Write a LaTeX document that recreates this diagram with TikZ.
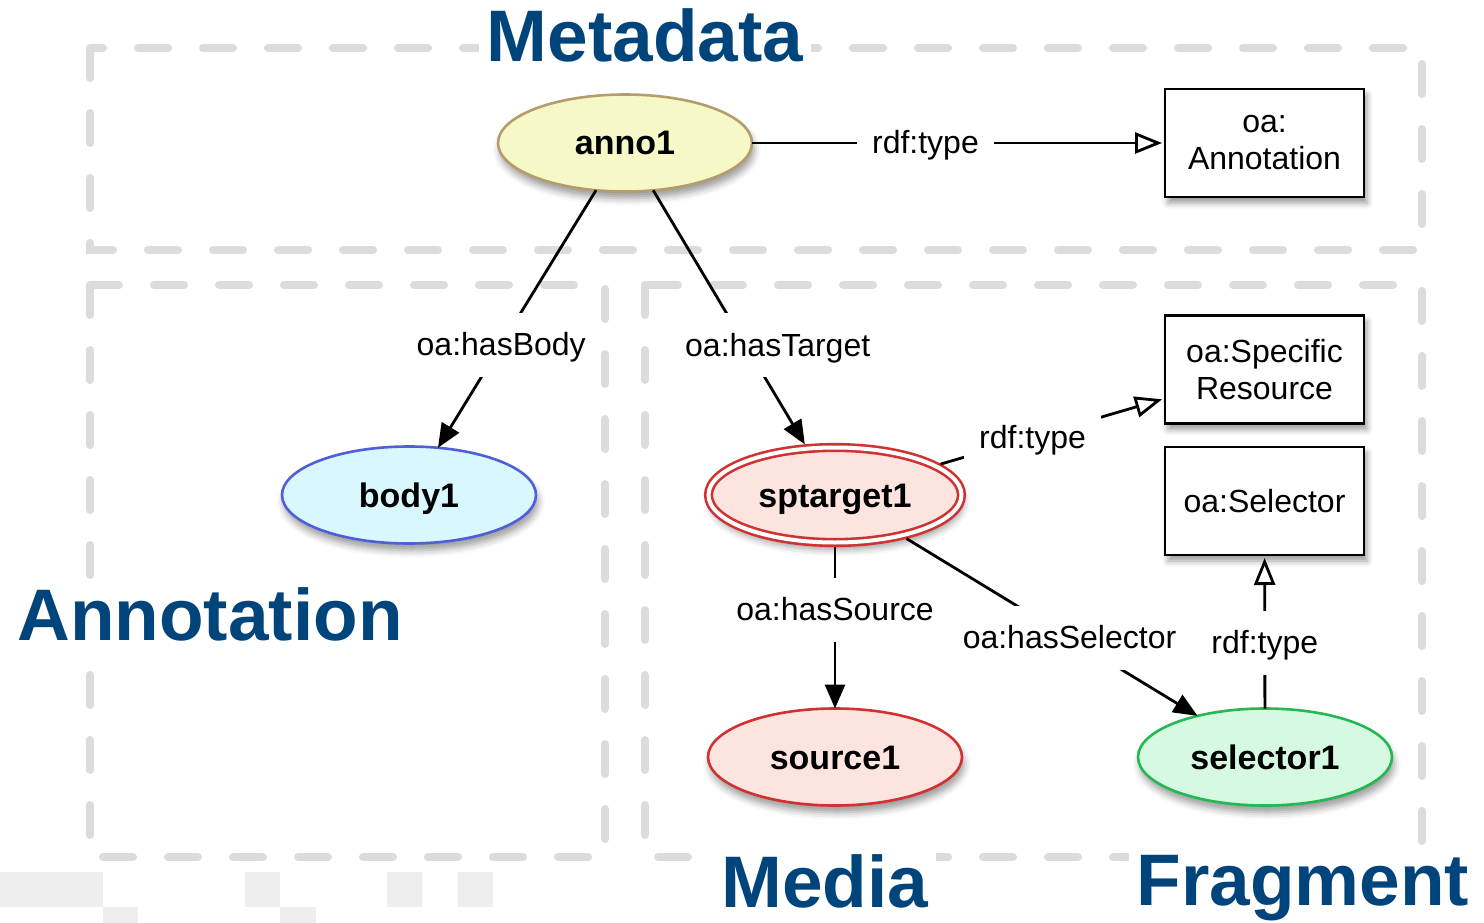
\documentclass[tikz,border=0pt]{standalone}
\usepackage{fontspec}
\setmainfont{Liberation Sans}
\usetikzlibrary{shapes.geometric,arrows.meta,shadows.blur}
\definecolor{dashgray}{HTML}{DCDCDC}
\definecolor{titleblue}{RGB}{0,68,124}
\definecolor{annofill}{HTML}{F6F8C8}
\definecolor{annodraw}{HTML}{B59C6C}
\definecolor{bodyfill}{HTML}{D8F7FF}
\definecolor{bodydraw}{HTML}{4F5FD8}
\definecolor{redfill}{HTML}{FDE4DF}
\definecolor{reddraw}{HTML}{D03232}
\definecolor{greenfill}{HTML}{D6F9E2}
\definecolor{greendraw}{HTML}{22B852}
\definecolor{faintgray}{HTML}{EEEEEE}
\begin{document}
\begin{tikzpicture}[x=1pt,y=-1pt,
  dashbox/.style={draw=dashgray, line width=8pt, line cap=round, dash pattern=on 30pt off 35pt},
  title/.style={font=\fontsize{73}{80}\selectfont\bfseries, text=titleblue, fill=white, inner sep=8pt, anchor=base},
  ell/.style={ellipse, minimum width=254pt, minimum height=97pt, inner sep=0pt, outer sep=0pt, line width=2.6pt,
    font=\fontsize{34}{40}\selectfont\bfseries, text height=24pt, text depth=0pt,
    blur shadow={shadow xshift=2pt, shadow yshift=-7pt, shadow blur radius=7pt, shadow opacity=40}},
  cls/.style={rectangle, draw=black, fill=white, line width=2.6pt, minimum width=199pt, minimum height=108pt,
    inner sep=0pt, outer sep=0pt, align=center, font=\fontsize{32}{37}\selectfont,
    blur shadow={shadow xshift=3pt, shadow yshift=-6pt, shadow blur radius=6pt, shadow opacity=40}},
  lbl/.style={fill=white, inner xsep=15pt, inner ysep=20pt, font=\fontsize{32}{38}\selectfont, text height=23pt, text depth=1pt},
  edge/.style={draw=black, line width=2.8pt},
  solidhead/.style={-{Triangle[length=24pt, width=20pt]}},
  openhead/.style={-{Triangle[open, length=27pt, width=21pt, fill=white]}, shorten >=3pt}
]
\useasboundingbox (0,0) rectangle (1484,923);

% faint gray squares at the bottom
\fill[faintgray] (0,872) rectangle (103,907);
\fill[faintgray] (103,907) rectangle (138,923);
\fill[faintgray] (245,872) rectangle (280,907);
\fill[faintgray] (280,907) rectangle (316,923);
\fill[faintgray] (387,872) rectangle (422,907);
\fill[faintgray] (458,872) rectangle (493,907);

% dashed group boxes
\draw[dashbox] (90,48) rectangle (1422,250);
\draw[dashbox] (90,285) rectangle (605,857);
\draw[dashbox] (645,285) rectangle (1422,857);

% titles
\node[title] (tMeta) at (645,62) {Metadata};
\node[title] (tAnno) at (210,640) {Annotation};
\node[title] (tMedia) at (825,907) {Media};
\node[title] (tFrag) at (1303,905) {Fragment};

% nodes
\node[ell, draw=annodraw, fill=annofill] (anno1) at (625,143) {anno1};
\node[ell, draw=bodydraw, fill=bodyfill] (body1) at (409,495) {body1};
\node[ell, draw=reddraw, fill=redfill, double=white, double distance=4pt, minimum width=253pt, minimum height=95pt, outer sep=4.5pt] (sptarget1) at (835,495) {sptarget1};
\node[ell, draw=reddraw, fill=redfill] (source1) at (835,757) {source1};
\node[ell, draw=greendraw, fill=greenfill] (selector1) at (1265,757) {selector1};

\node[cls] (cAnno) at (1264.5,143) {oa:\\Annotation};
\node[cls] (cSpec) at (1264.5,369.5) {oa:Specific\\Resource};
\node[cls] (cSel) at (1264.5,501) {oa:Selector};

% connectors
\draw[edge, openhead] (anno1) -- node[lbl, pos=0.42] (l1) {rdf:type} (cAnno);
\draw[edge, solidhead] (anno1) -- node[lbl, pos=0.6] (l2) {oa:hasBody} (body1);
\draw[edge, solidhead] (anno1) -- node[lbl, pos=0.61, xshift=32pt] (l3) {oa:hasTarget} (sptarget1);
\draw[edge, openhead] (sptarget1) -- node[lbl, pos=0.41] (l4) {rdf:type} (cSpec);
\draw[edge, solidhead] (sptarget1) -- node[lbl, pos=0.39] (l5) {oa:hasSource} (source1);
\draw[edge, solidhead] (sptarget1) -- node[lbl, pos=0.56] (l6) {oa:hasSelector} (selector1);
\draw[edge, openhead] (selector1) -- node[lbl, pos=0.43] (l7) {rdf:type} (cSel);
\end{tikzpicture}
\end{document}
